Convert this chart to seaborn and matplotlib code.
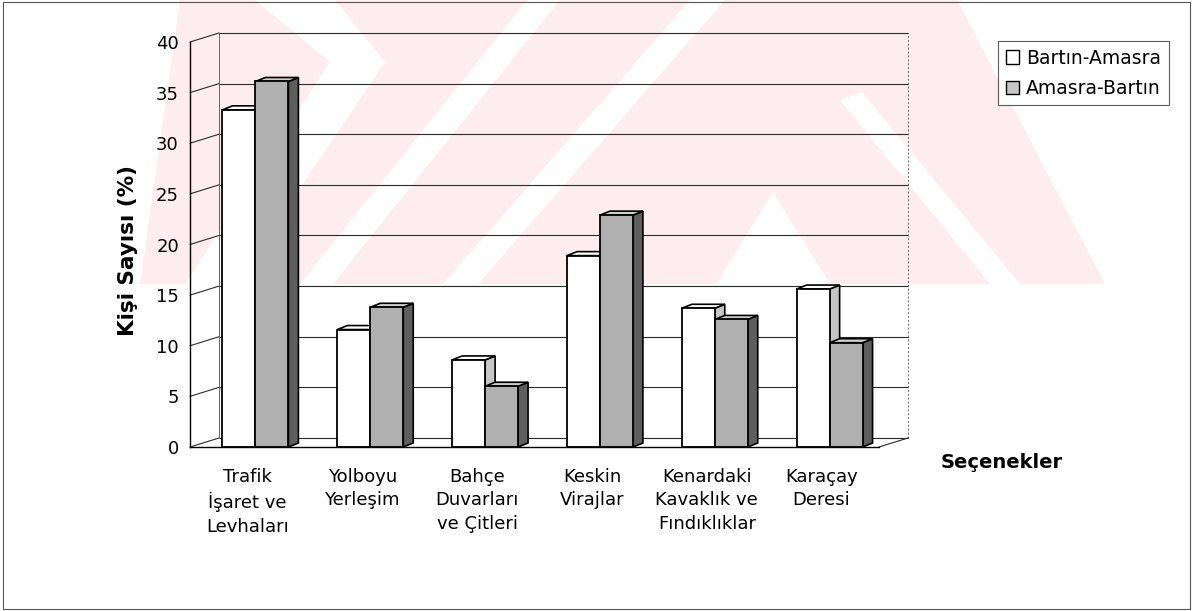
import numpy as np
import pandas as pd
import matplotlib
matplotlib.use("Agg")
import matplotlib.pyplot as plt
from matplotlib.patches import Polygon, Patch, Rectangle
import seaborn as sns

# ---- data -------------------------------------------------------------
categories = [
    "Trafik\nİşaret ve\nLevhaları",
    "Yolboyu\nYerleşim",
    "Bahçe\nDuvarları\nve Çitleri",
    "Keskin\nVirajlar",
    "Kenardaki\nKavaklık ve\nFındıklıklar",
    "Karaçay\nDeresi",
]
series_names = ["Bartın-Amasra", "Amasra-Bartın"]
bartin_amasra = [33.3, 11.6, 8.6, 18.9, 13.7, 15.6]
amasra_bartin = [36.1, 13.8, 6.0, 22.9, 12.6, 10.3]
y_ticks = [0, 5, 10, 15, 20, 25, 30, 35, 40]

df = pd.DataFrame({
    "Seçenek": categories * 2,
    "Yön": [series_names[0]] * len(categories) + [series_names[1]] * len(categories),
    "Oran": bartin_amasra + amasra_bartin,
})

# ---- style ------------------------------------------------------------
sns.set_style("white")
plt.rcParams["font.family"] = ["DejaVu Sans"]
plt.rcParams["text.color"] = "black"
plt.rcParams["axes.labelcolor"] = "black"
plt.rcParams["xtick.color"] = "black"
plt.rcParams["ytick.color"] = "black"

W, H = 1200, 611
fig = plt.figure(figsize=(W / 100, H / 100), dpi=100)

def fx(px):
    return px / W

def fy(py):
    return 1 - py / H

# faint pink emblem behind the chart (pixel layout, top-left origin)
PINK = "#fdedf0"
emblem_base = [(180, 0), (957, 0), (1105, 284), (140, 284)]
emblem_cuts = [
    [(255, 0), (335, 0), (385, 62), (235, 284), (185, 284), (330, 62)],
    [(527, 0), (560, 0), (333, 284), (300, 284)],
    [(690, 0), (725, 0), (478, 284), (443, 284)],
    [(773, 192), (830, 284), (716, 284)],
    [(840, 100), (862, 92), (1020, 284), (990, 284)],
]
fig.add_artist(Polygon([(fx(x), fy(y)) for x, y in emblem_base],
                       closed=True, transform=fig.transFigure,
                       facecolor=PINK, edgecolor="none", zorder=-2))
for cut in emblem_cuts:
    fig.add_artist(Polygon([(fx(x), fy(y)) for x, y in cut],
                           closed=True, transform=fig.transFigure,
                           facecolor="white", edgecolor="none", zorder=-1.5))

# outer chart frame
fig.add_artist(Rectangle((fx(3), fy(609)), fx(1190) - fx(3), fy(2) - fy(609),
                         transform=fig.transFigure, fill=False,
                         edgecolor="#555555", linewidth=0.8, zorder=5))

# plotting area: front axis from x=190..879, y=447..42
ax = fig.add_axes([fx(190), fy(447), fx(879) - fx(190), fy(42) - fy(447)])
ax.set_facecolor("none")

GRAY_FRONT = "#b0b0b0"
GRAY_SIDE = "#5e5e5e"
GRAY_TOP = "#d0d0d0"
WHITE_SIDE = "#c6c6c6"

sns.barplot(data=df, x="Seçenek", y="Oran", hue="Yön",
            order=categories, hue_order=series_names,
            palette=["white", GRAY_FRONT], saturation=1,
            edgecolor="black", linewidth=1.3, width=0.574,
            errorbar=None, legend=False, ax=ax)

ax.set_xlim(-0.5, len(categories) - 0.5)
ax.set_ylim(0, 40)

# depth of the 3-D look, in data units
WALL_DX, WALL_DY = 0.2525, 0.89
BAR_DX, BAR_DY = 0.087, 0.395
SHIFT = 0.07

bars = list(ax.patches)
n = len(categories)
for i, p in enumerate(bars):
    second = i >= n
    p.set_x(p.get_x() + SHIFT)
    x0, w, h = p.get_x(), p.get_width(), p.get_height()
    base_z = 4.0 if second else 3.0
    p.set_zorder(base_z + 0.2)
    side = [(x0 + w, 0), (x0 + w + BAR_DX, BAR_DY),
            (x0 + w + BAR_DX, h + BAR_DY), (x0 + w, h)]
    top = [(x0, h), (x0 + w, h), (x0 + w + BAR_DX, h + BAR_DY),
           (x0 + BAR_DX, h + BAR_DY)]
    ax.add_patch(Polygon(side, closed=True,
                         facecolor=GRAY_SIDE if second else WHITE_SIDE,
                         edgecolor="black", linewidth=1.2,
                         zorder=base_z + 0.1, clip_on=False))
    ax.add_patch(Polygon(top, closed=True,
                         facecolor=GRAY_TOP if second else "white",
                         edgecolor="black", linewidth=1.2,
                         zorder=base_z + 0.1, clip_on=False))

# back wall, side wall and floor lines
x_left, x_right = -0.5, n - 0.5
GRID = "#2a2a2a"
for v in y_ticks:
    ax.plot([x_left + WALL_DX, x_right + WALL_DX], [v + WALL_DY] * 2,
            color=GRID, lw=0.8, zorder=1, clip_on=False)
    ax.plot([x_left, x_left + WALL_DX], [v, v + WALL_DY],
            color=GRID, lw=0.8, zorder=1, clip_on=False)
ax.plot([x_left + WALL_DX] * 2, [WALL_DY, 40 + WALL_DY],
        color="#666666", lw=0.7, zorder=1, clip_on=False)
ax.plot([x_right + WALL_DX] * 2, [WALL_DY, 40 + WALL_DY],
        color="#666666", lw=0.7, ls=(0, (2, 2)), zorder=1, clip_on=False)
ax.plot([x_right, x_right + WALL_DX], [0, WALL_DY],
        color=GRID, lw=0.8, zorder=1, clip_on=False)

# axes and ticks
for s in ["top", "right"]:
    ax.spines[s].set_visible(False)
for s in ["left", "bottom"]:
    ax.spines[s].set_color("black")
    ax.spines[s].set_linewidth(1.0)
    ax.spines[s].set_zorder(6)

ax.set_yticks(y_ticks)
ax.set_yticklabels([str(v) for v in y_ticks])
ax.tick_params(axis="y", direction="out", length=5, width=0.9,
               labelsize=13, pad=3, colors="black")

ax.set_xticks(np.arange(-0.5, n, 1.0))
ax.set_xticklabels([""] * (n + 1))
ax.set_xticks(np.arange(n), minor=True)
ax.set_xticklabels(categories, minor=True)
ax.tick_params(axis="x", which="major", direction="out", length=8, width=0.9,
               colors="black")
ax.tick_params(axis="x", which="minor", length=0, pad=15, labelsize=13,
               labelcolor="black")
for lbl in ax.get_xticklabels(minor=True):
    lbl.set_linespacing(1.4)
ax.set_xlabel("")

ax.set_ylabel("Kişi Sayısı (%)", fontsize=15.5, fontweight="bold", va="center")
ax.yaxis.set_label_coords(-0.09, 0.484)

fig.text(fx(1002), fy(462), "Seçenekler", fontsize=14, fontweight="bold",
         ha="center", va="center")

handles = [Patch(facecolor="white", edgecolor="black", linewidth=1.0),
           Patch(facecolor="#c8c8c8", edgecolor="black", linewidth=1.0)]
leg = fig.legend(handles=handles, labels=series_names, loc="upper left",
                 bbox_to_anchor=(fx(998), fy(41)), frameon=True, fancybox=False,
                 edgecolor="#333333", fontsize=13.5, handlelength=0.7,
                 handleheight=0.7, handletextpad=0.4, borderpad=0.4,
                 labelspacing=0.6, borderaxespad=0)
leg.get_frame().set_linewidth(0.8)

fig.savefig("out.png", dpi=100, facecolor="white")
